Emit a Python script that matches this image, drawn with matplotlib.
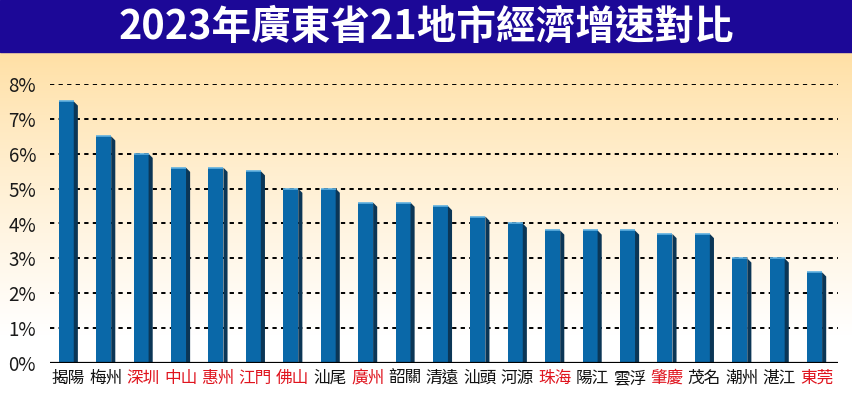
import numpy as np
import matplotlib
matplotlib.use("Agg")
import matplotlib.pyplot as plt
from matplotlib.patches import Polygon, Rectangle

title = "2023年廣東省21地市經濟增速對比"
cities = ["揭陽", "梅州", "深圳", "中山", "惠州", "江門", "佛山", "汕尾", "廣州", "韶關",
          "清遠", "汕頭", "河源", "珠海", "陽江", "雲浮", "肇慶", "茂名", "潮州", "湛江", "東莞"]
growth = [7.5, 6.5, 6.0, 5.6, 5.6, 5.5, 5.0, 5.0, 4.6, 4.6,
          4.5, 4.2, 4.0, 3.8, 3.8, 3.8, 3.7, 3.7, 3.0, 3.0, 2.6]
highlight = ["深圳", "中山", "惠州", "江門", "佛山", "廣州", "珠海", "肇慶", "東莞"]
yticks = [0, 1, 2, 3, 4, 5, 6, 7, 8]
ytick_labels = ["0%", "1%", "2%", "3%", "4%", "5%", "6%", "7%", "8%"]

plt.rcParams['font.family'] = ['Noto Sans CJK TC', 'DejaVu Sans']

W, H = 853, 415
fig = plt.figure(figsize=(W / 100, H / 100), dpi=100)

# background gradient
bg = fig.add_axes([0, 0, 1, 1], zorder=0)
bg.set_axis_off()
grad = np.linspace(0, 1, 256)[:, None]
c_top = np.array([1.0, 0.875, 0.64])
c_bot = np.array([1.0, 1.0, 1.0])
t = np.clip(grad / 0.78, 0, 1) ** 0.85
img = c_top[None, None, :] * (1 - t[..., None]) + c_bot[None, None, :] * t[..., None]
img = np.repeat(img, 2, axis=1)
bg.imshow(img, aspect='auto', extent=[0, 1, 0, 1 - 52 / H], origin='upper')
bg.add_patch(Rectangle((0, 1 - 52 / H), 1, 52 / H, color='#1c0897', transform=bg.transAxes))
bg.set_xlim(0, 1)
bg.set_ylim(0, 1)
bg.text(0.5, 1 - 27 / H, title, color='white', fontsize=28.5, fontweight='heavy',
        ha='center', va='center', transform=bg.transAxes)

left, right = 50 / W, 838 / W
bottom, top = 1 - 363 / H, 1 - 84 / H
ax = fig.add_axes([left, bottom, right - left, top - bottom], zorder=1)
ax.patch.set_alpha(0)

x = np.arange(len(cities))
w = 0.40
d = 0.11
ax.bar(x - d / 2, growth, width=w, color='#0a68a8', zorder=3, linewidth=0)
for xi, v in zip(x, growth):
    xr = xi - d / 2 + w / 2
    side = Polygon([(xr, 0), (xr + d, 0), (xr + d, v - 0.12), (xr, v)],
                   closed=True, color='#0b3656', zorder=3, linewidth=0)
    ax.add_patch(side)
    ax.plot([xi - d / 2 - w / 2, xr], [v, v], color='#5fb0e0', lw=1.2, zorder=4,
            solid_capstyle='butt')

ax.set_xlim(-0.49, 20.57)
ax.set_ylim(0, 8)
for yv in yticks[1:]:
    ax.axhline(yv, color='black', lw=1.4, ls=(0, (2.2, 2.2)), zorder=1)
ax.axhline(0, color='black', lw=1.6, zorder=5)

for s in ax.spines.values():
    s.set_visible(False)
ax.set_yticks(yticks)
ax.set_yticklabels(ytick_labels, fontsize=13.5, color='#1a1a1a')
ax.tick_params(axis='y', length=0, pad=10)
ax.set_xticks(x)
ax.set_xticklabels(cities, fontsize=12, fontweight='medium')
ax.tick_params(axis='x', length=0, pad=5)
for lab, name in zip(ax.get_xticklabels(), cities):
    lab.set_color('#e0141e' if name in highlight else '#111111')

fig.savefig('out.png', dpi=100)
